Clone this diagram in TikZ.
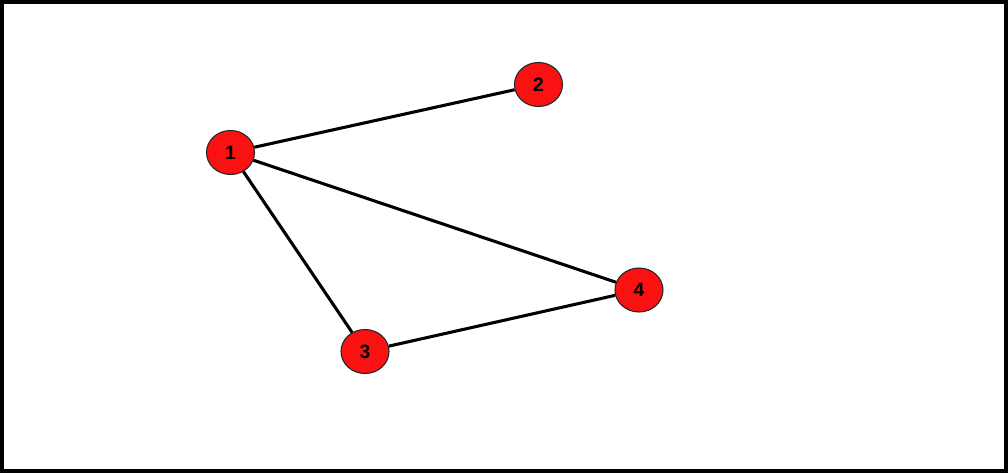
\documentclass[tikz,border=0pt]{standalone}
\usepackage{fontspec}
\setmainfont{Liberation Sans}
\usetikzlibrary{shapes.geometric}
\begin{document}
\begin{tikzpicture}[x=0.75pt,y=-0.75pt,
  vert/.style={ellipse,draw=black!85,line width=0.8pt,fill={rgb,255:red,250;green,18;blue,18},minimum width=48*0.75pt,minimum height=44*0.75pt,inner sep=0pt,font=\fontsize{14.5pt}{16pt}\selectfont\bfseries},
  edge/.style={line width=2.3pt,black}]
\useasboundingbox (0,0) rectangle (1008,473);
\fill[white] (0,0) rectangle (1008,473);
\draw[line width=3pt] (2,2) rectangle (1006,471);
\node[vert] (n1) at (230.5,152.5) {1};
\node[vert] (n2) at (538.5,84.5) {2};
\node[vert] (n3) at (365,351.5) {3};
\node[vert] (n4) at (639,290) {4};
\draw[edge] (n1) -- (n2);
\draw[edge] (n1) -- (n3);
\draw[edge] (n1) -- (n4);
\draw[edge] (n3) -- (n4);
\end{tikzpicture}
\end{document}
